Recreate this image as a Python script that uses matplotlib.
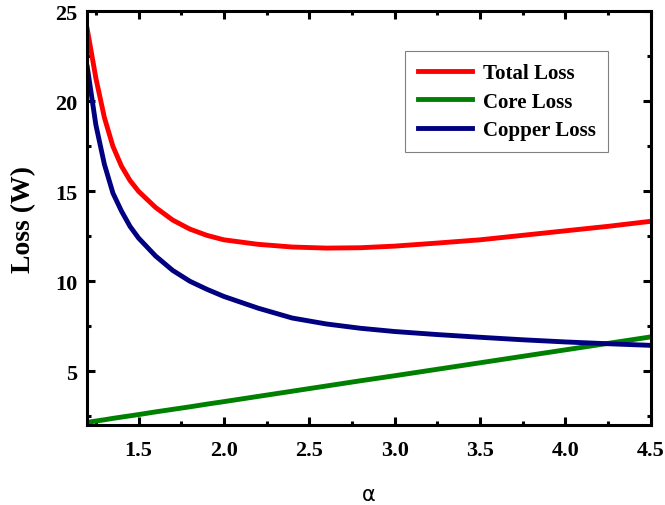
import numpy as np
import matplotlib
matplotlib.use('Agg')
import matplotlib.pyplot as plt
from matplotlib.ticker import MultipleLocator

# values
alpha = [1.2, 1.25, 1.3, 1.35, 1.4, 1.45, 1.5, 1.6, 1.7, 1.8, 1.9, 2.0, 2.2,
         2.4, 2.6, 2.8, 3.0, 3.25, 3.5, 3.75, 4.0, 4.25, 4.5]
total_loss = [24.0, 21.3, 19.1, 17.5, 16.4, 15.6, 15.0, 14.1, 13.4, 12.9,
              12.55, 12.3, 12.05, 11.9, 11.84, 11.86, 11.95, 12.12, 12.3,
              12.55, 12.8, 13.05, 13.33]
core_loss = [2.15, 2.22, 2.29, 2.37, 2.44, 2.51, 2.58, 2.73, 2.87, 3.01, 3.16,
             3.30, 3.59, 3.88, 4.17, 4.46, 4.74, 5.10, 5.46, 5.82, 6.18, 6.54,
             6.90]
copper_loss = [21.9, 18.7, 16.5, 14.9, 13.9, 13.05, 12.4, 11.4, 10.6, 10.0,
               9.55, 9.15, 8.5, 7.95, 7.62, 7.38, 7.2, 7.03, 6.88, 6.74, 6.62,
               6.52, 6.43]

plt.rcParams['font.family'] = 'Liberation Serif'
plt.rcParams['font.weight'] = 'bold'

fig = plt.figure(figsize=(6.65, 5.06), dpi=100)
ax = fig.add_axes([0.1313, 0.1581, 0.8472, 0.8172])

ax.plot(alpha, total_loss, color='#ff0000', lw=3.5, label='Total Loss')
ax.plot(alpha, core_loss, color='#008000', lw=3.5, label='Core Loss')
ax.plot(alpha, copper_loss, color='#000080', lw=3.5, label='Copper Loss')

ax.set_xlim(1.2, 4.5)
ax.set_ylim(2, 25)
ax.xaxis.set_major_locator(MultipleLocator(0.5))
ax.xaxis.set_minor_locator(MultipleLocator(0.25))
ax.yaxis.set_major_locator(MultipleLocator(5))
ax.yaxis.set_minor_locator(MultipleLocator(2.5))
ax.set_xticks([1.5, 2.0, 2.5, 3.0, 3.5, 4.0, 4.5])

for s in ax.spines.values():
    s.set_linewidth(2.2)
ax.tick_params(which='both', direction='in', top=True, right=True, width=2.2)
ax.tick_params(which='major', length=6, labelsize=16, pad=7)
ax.tick_params(axis='x', which='major', pad=11)
ax.tick_params(which='minor', length=3)

ax.set_ylabel('Loss (W)', fontsize=20, fontweight='bold', labelpad=14)
ax.set_xlabel('α', fontsize=15, fontweight='normal', family='DejaVu Sans', labelpad=17)

leg = ax.legend(loc='upper right', bbox_to_anchor=(0.924, 0.905), borderaxespad=0,
                fancybox=False, edgecolor='#808080', framealpha=1,
                prop={'family': 'Liberation Serif', 'weight': 'bold', 'size': 15},
                handlelength=2.6, labelspacing=0.4, borderpad=0.6, handletextpad=0.5)
leg.get_frame().set_linewidth(0.8)

fig.savefig('out.png', dpi=100)
